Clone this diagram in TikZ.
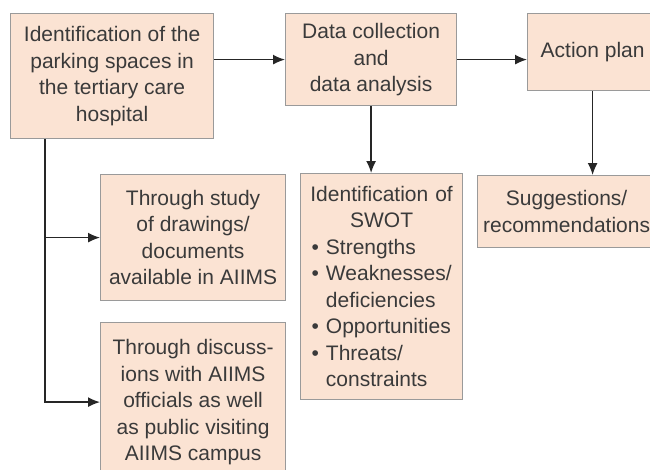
\documentclass[tikz,border=0pt]{standalone}
\usepackage{fontspec}
\setmainfont{Liberation Sans}
\usetikzlibrary{arrows.meta}
\definecolor{boxfill}{HTML}{FBE3D3}
\definecolor{boxline}{HTML}{9A9A9A}
\definecolor{txt}{HTML}{3A3A3A}
\tikzset{
  box/.style={draw=boxline,line width=1.2pt,fill=boxfill,text=txt,align=center,
    anchor=north west,inner sep=0pt,font=\fontsize{21}{26.5}\selectfont},
  arr/.style={draw=black!85,line width=1.5pt,-{Latex[length=12pt,width=10pt]}}
}
\begin{document}
\begin{tikzpicture}[x=1pt,y=-1pt]
  \useasboundingbox (0,0) rectangle (650,469);
  \fill[white] (0,0) rectangle (650,469);
  \clip (0,0) rectangle (650,469);
  \node (1) at (10,13) [box,minimum width=203,minimum height=125]
    {Identification of the\\parking spaces in\\the tertiary care\\hospital};
  \node (2) at (285,13) [box,minimum width=171,minimum height=92]
    {Data collection\\and\\data analysis};
  \node (3) at (527,13) [box,minimum width=130,minimum height=77] {Action plan};
  \node (4) at (100,174) [box,minimum width=185,minimum height=126]
    {Through study\\of drawings/\\documents\\available in AIIMS};
  \node (5) at (100,322) [box,minimum width=185,minimum height=159]
    {Through discuss-\\ions with AIIMS\\officials as well\\as public visiting\\AIIMS campus};
  \node (6) at (300,173) [box,minimum width=162,minimum height=226,text width=162,align=left]
    {\centering Identification of\\SWOT\par
     \raggedright
     \hspace*{11pt}\textbullet\ Strengths\\
     \hspace*{11pt}\textbullet\ Weaknesses/\\
     \hspace*{11pt}\phantom{\textbullet\ }deficiencies\\
     \hspace*{11pt}\textbullet\ Opportunities\\
     \hspace*{11pt}\textbullet\ Threats/\\
     \hspace*{11pt}\phantom{\textbullet\ }constraints};
  \node (7) at (477,175) [box,minimum width=178,minimum height=72]
    {Suggestions/\\recommendations};
  \coordinate (spine) at ([xshift=35pt]1.south west);
  \draw[arr] (1.east |- 2.west) to (2.west);
  \draw[arr] (2.east) to (2.east -| 3.west);
  \draw[arr] (2.south) to (2.south |- 6.north);
  \draw[arr] (3.south) to (3.south |- 7.north);
  \draw[arr] (spine) |- (5.west);
  \draw[arr] (spine |- 4.west) to (4.west);
\end{tikzpicture}
\end{document}
